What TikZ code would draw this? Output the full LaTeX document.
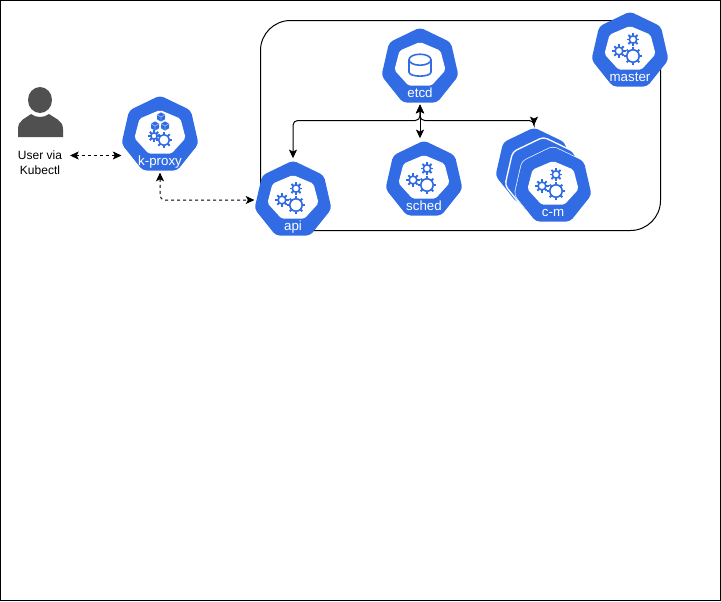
\documentclass[tikz,border=0pt]{standalone}
\usepackage{fontspec}
\setmainfont{Liberation Sans}
\usetikzlibrary{shapes.geometric,arrows.meta}

\definecolor{kubeblue}{HTML}{326CE5}
\definecolor{persongray}{HTML}{505050}

\tikzset{
  kubeshell/.style={regular polygon, regular polygon sides=7, fill=kubeblue,
    minimum size=59.25pt, inner sep=0pt, outer sep=1.5pt, rounded corners=3pt},
  kubecore/.style={regular polygon, regular polygon sides=7, fill=white,
    minimum size=34.5pt, inner sep=0pt, rounded corners=1.5pt, transform shape, xscale=1.14},
  kubetag/.style={text=white, font=\fontsize{10}{12}\selectfont, inner sep=0pt, anchor=base},
  iconline/.style={draw=kubeblue, line width=1.2pt},
  conn/.style={<->, line width=0.75pt, rounded corners=3.5pt},
  dashconn/.style={<->, line width=0.75pt, dash pattern=on 2.25pt off 2.25pt, rounded corners=3.5pt},
}

% one blue heptagon, drawn from its top vertex
\newcommand{\kubeblock}[2]{
  \node[kubeshell] (#1) at (0,38) {};
  \node[kubecore] (#1core) at (0,36) {};
  \node[kubetag] (#1tag) at (0,68.5) {#2};
}
% x, y, ring radius
\newcommand{\gearicon}[3]{
  \foreach \ang in {0,45,...,315}
    \draw[kubeblue, line width=1.4pt] ([shift={(#1,#2)}]\ang:#3) -- ([shift={(#1,#2)}]\ang:#3+2.7);
  \draw[iconline, fill=white] (#1,#2) circle (#3);
}
\newcommand{\cubeicon}[2]{
  \begin{scope}[shift={(#1,#2)}]
    \fill[kubeblue] (0,-4.6) -- (4,-2.3) -- (4,2.3) -- (0,4.6) -- (-4,2.3) -- (-4,-2.3) -- cycle;
    \draw[white, line width=0.2pt] (-4,-2.3) -- (0,0) -- (4,-2.3) (0,0) -- (0,4.6);
  \end{scope}
}
\newcommand{\threegears}{
  \gearicon{3}{26.5}{3.7}
  \gearicon{-11}{38}{3.9}
  \gearicon{3}{43}{6.2}
}

\begin{document}
\begin{tikzpicture}[x=0.75pt,y=-0.75pt,>={Stealth[length=6.5pt,width=6pt,inset=1.5pt]}]
  \useasboundingbox (0,0) rectangle (721,601);
  \draw[line width=0.75pt] (0.5,0.5) rectangle (720.5,600.5);

  % Cluster outline
  \draw[line width=0.75pt, rounded corners=22.5pt] (260.5,20.5) rectangle (660.5,230.5);

  % User
  \fill[persongray] (40,100) ellipse (12 and 13);
  \fill[persongray] (18,137) -- (18,129) .. controls (18,120) and (26,118) .. (31,114)
    .. controls (36,118) and (44,118) .. (49,114)
    .. controls (54,118) and (63,120) .. (63,129) -- (63,137) -- cycle;
  \node[align=center, font=\fontsize{9}{11.25}\selectfont, inner sep=0pt] (user) at (40,162.5) {User via\\Kubectl};

  % k-proxy
  \begin{scope}[shift={(160,97)}]
    \kubeblock{kproxy}{k-proxy}
    \cubeicon{1}{20}
    \cubeicon{-5}{29}
    \cubeicon{5}{29}
    \gearicon{-6}{39}{3.2}
    \gearicon{4}{43}{5.4}
  \end{scope}

  % api
  \begin{scope}[shift={(293,162)}]
    \kubeblock{api}{api}
    \threegears
  \end{scope}

  % etcd
  \begin{scope}[shift={(420,29)}]
    \kubeblock{etcd}{etcd}
    \draw[iconline] (-11,30.7) -- (-11,43) .. controls (-11,48.5) and (11,48.5) .. (11,43) -- (11,30.7);
    \draw[iconline] (0,30.7) ellipse (11 and 5.5);
  \end{scope}

  % sched
  \begin{scope}[shift={(424,142)}]
    \kubeblock{sched}{sched}
    \threegears
  \end{scope}

  % c-m stack
  \begin{scope}[shift={(534,129)}]
    \node[kubeshell] (cmback) at (0,38) {};
  \end{scope}
  \begin{scope}[shift={(543.5,138.5)}]
    \node[kubeshell, draw=white, line width=1pt] (cmmid) at (0,38) {};
  \end{scope}
  \begin{scope}[shift={(553,148)}]
    \node[kubeshell, draw=white, line width=1pt] (cmfront) at (0,38) {};
    \kubeblock{cm}{c-m}
    \threegears
  \end{scope}

  % master
  \begin{scope}[shift={(630,13)}]
    \kubeblock{master}{master}
    \threegears
  \end{scope}

  % Connectors
  \coordinate (bus) at (420,120.5);
  \coordinate (userport) at (70,155.5);
  \coordinate (proxyport) at (121.5,155.5);
  \draw[conn] (etcd.south) -- (bus) -| (api.north);
  \draw[conn] (etcd.south) -- (bus) -| (cmback.north);
  \draw[conn] (etcd.south) -- (etcd.south |- sched.north);
  \draw[dashconn] (userport) -- (proxyport);
  \draw[dashconn] (kproxy.south) |- (api.west);
\end{tikzpicture}
\end{document}
